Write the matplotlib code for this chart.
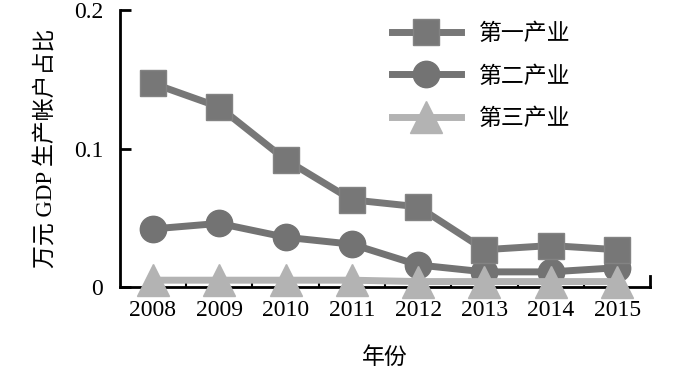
import matplotlib.pyplot as plt
import numpy as np

plt.rcParams['font.family'] = ['Liberation Serif', 'Noto Sans CJK SC']

# data
years = ['2008', '2009', '2010', '2011', '2012', '2013', '2014', '2015']
primary = [0.147, 0.130, 0.092, 0.063, 0.058, 0.027, 0.030, 0.027]
secondary = [0.042, 0.046, 0.036, 0.031, 0.016, 0.011, 0.011, 0.014]
tertiary = [0.005, 0.005, 0.005, 0.005, 0.004, 0.004, 0.004, 0.004]
names = ['第一产业', '第二产业', '第三产业']

x = np.arange(len(years))

fig = plt.figure(figsize=(7, 3.7), dpi=100)
ax = fig.add_axes([0.171, 0.224, 0.758, 0.749])

ax.plot(x, primary, color='#777777', lw=5, marker='s', ms=19,
        mec='#838383', mew=1, label=names[0], zorder=3, clip_on=False)
ax.plot(x, secondary, color='#737373', lw=5, marker='o', ms=19,
        label=names[1], zorder=2, clip_on=False)
ax.plot(x, tertiary, color='#b3b3b3', lw=5, marker='^', ms=23,
        label=names[2], zorder=4, clip_on=False)

ax.set_xlim(-0.5, len(years) - 0.5)
ax.set_ylim(0, 0.2)
ax.set_yticks([0, 0.1, 0.2])
ax.set_yticklabels(['0', '0.1', '0.2'])
ax.set_xticks(x)
ax.set_xticklabels(years)
ax.set_xticks(x[:-1] + 0.5, minor=True)
ax.tick_params(axis='x', which='major', length=0, pad=9, labelsize=17)
ax.tick_params(axis='x', which='minor', direction='in', length=3, width=1.5)
ax.tick_params(axis='y', direction='in', length=8, width=2, labelsize=17, pad=12)

for s in ['top', 'right']:
    ax.spines[s].set_visible(False)
for s in ['left', 'bottom']:
    ax.spines[s].set_linewidth(2)
ax.plot([len(years) - 0.5, len(years) - 0.5], [0, 0.008], color='black',
        lw=2, clip_on=False)

ax.set_ylabel('万元 GDP 生产帐户占比', fontsize=16.5, labelpad=12)
ax.set_xlabel('年份', fontsize=16.5, family=['Noto Sans CJK SC'], labelpad=18)

ax.legend(loc='upper left', bbox_to_anchor=(392 / 700, 348 / 370),
          bbox_transform=fig.transFigure, frameon=False,
          borderpad=0, borderaxespad=0,
          prop={'family': 'Noto Sans CJK SC', 'size': 16.5},
          handlelength=3.0, labelspacing=0.85, handletextpad=0.8)

fig.savefig('out.png')
